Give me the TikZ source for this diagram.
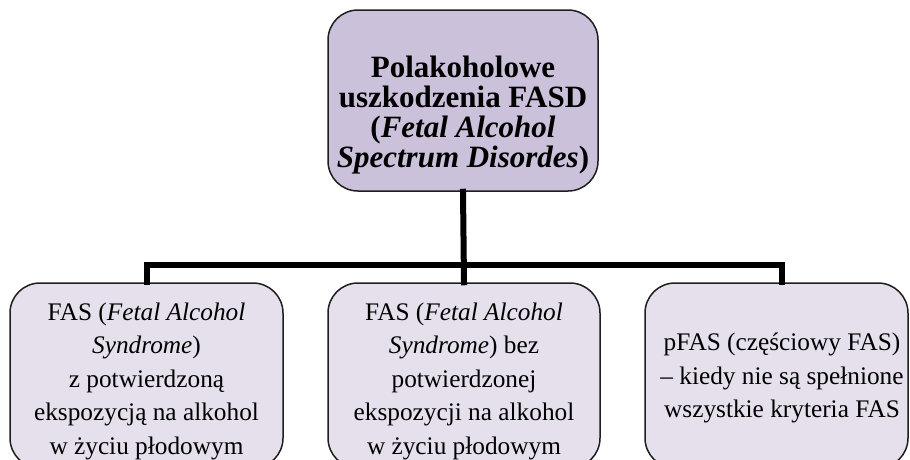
\documentclass[tikz,border=0pt]{standalone}
\usepackage{fontspec}
\setmainfont{Liberation Serif}
\definecolor{rootfill}{RGB}{204,193,218}
\definecolor{leaffill}{RGB}{229,224,236}
\definecolor{edgegray}{RGB}{30,30,30}
\tikzset{
  rootbox/.style={draw=edgegray, line width=1.5pt, fill=rootfill, rounded corners=30pt,
    minimum width=270pt, minimum height=181pt, inner sep=0pt},
  roottext/.style={align=center, inner sep=0pt, font=\fontsize{31}{30}\selectfont\bfseries},
  leafbox/.style={draw=edgegray, line width=1.5pt, fill=leaffill, rounded corners=30pt,
    minimum height=185pt, inner sep=0pt},
  leaftext/.style={align=center, inner sep=0pt, font=\fontsize{25.3}{33.5}\selectfont},
  conn/.style={line width=6pt, line join=miter, line cap=rect}
}
\begin{document}
\begin{tikzpicture}[x=1pt, y=-1pt]
\useasboundingbox (0,0) rectangle (910,459);
\clip (0,0) rectangle (910,459);
% top of the tree
\node[rootbox] (root) at (463,100.5) {};
\node[roottext] (roottxt) at (463,115)
  {Polakoholowe\\uszkodzenia FASD\\(\textit{Fetal Alcohol}\\\textit{Spectrum Disordes})};
% three kinds
\node[leafbox, minimum width=273pt] (fas) at (146.5,375.5) {};
\node[leaftext] (fastxt) at (146.5,381)
  {FAS (\textit{Fetal Alcohol}\\\textit{Syndrome})\\z potwierdzoną\\ekspozycją na alkohol\\w życiu płodowym};
\node[leafbox, minimum width=272pt] (fasbez) at (464,375.5) {};
\node[leaftext] (fasbeztxt) at (464,381)
  {FAS (\textit{Fetal Alcohol}\\\textit{Syndrome}) bez\\potwierdzonej\\ekspozycji na alkohol\\w życiu płodowym};
\node[leafbox, minimum width=263pt] (pfas) at (776.5,375.5) {};
\node[leaftext] (pfastxt) at (782,378)
  {pFAS (częściowy FAS)\\– kiedy nie są spełnione\\wszystkie kryteria FAS};
% connectors
\coordinate (bar) at (463,264.5);
\draw[conn] (root.south) -- (fasbez.north);
\draw[conn] (fas.north) -- (fas.north |- bar) -- (pfastxt.north |- bar) -- (pfastxt.north |- pfas.north);
\end{tikzpicture}
\end{document}
